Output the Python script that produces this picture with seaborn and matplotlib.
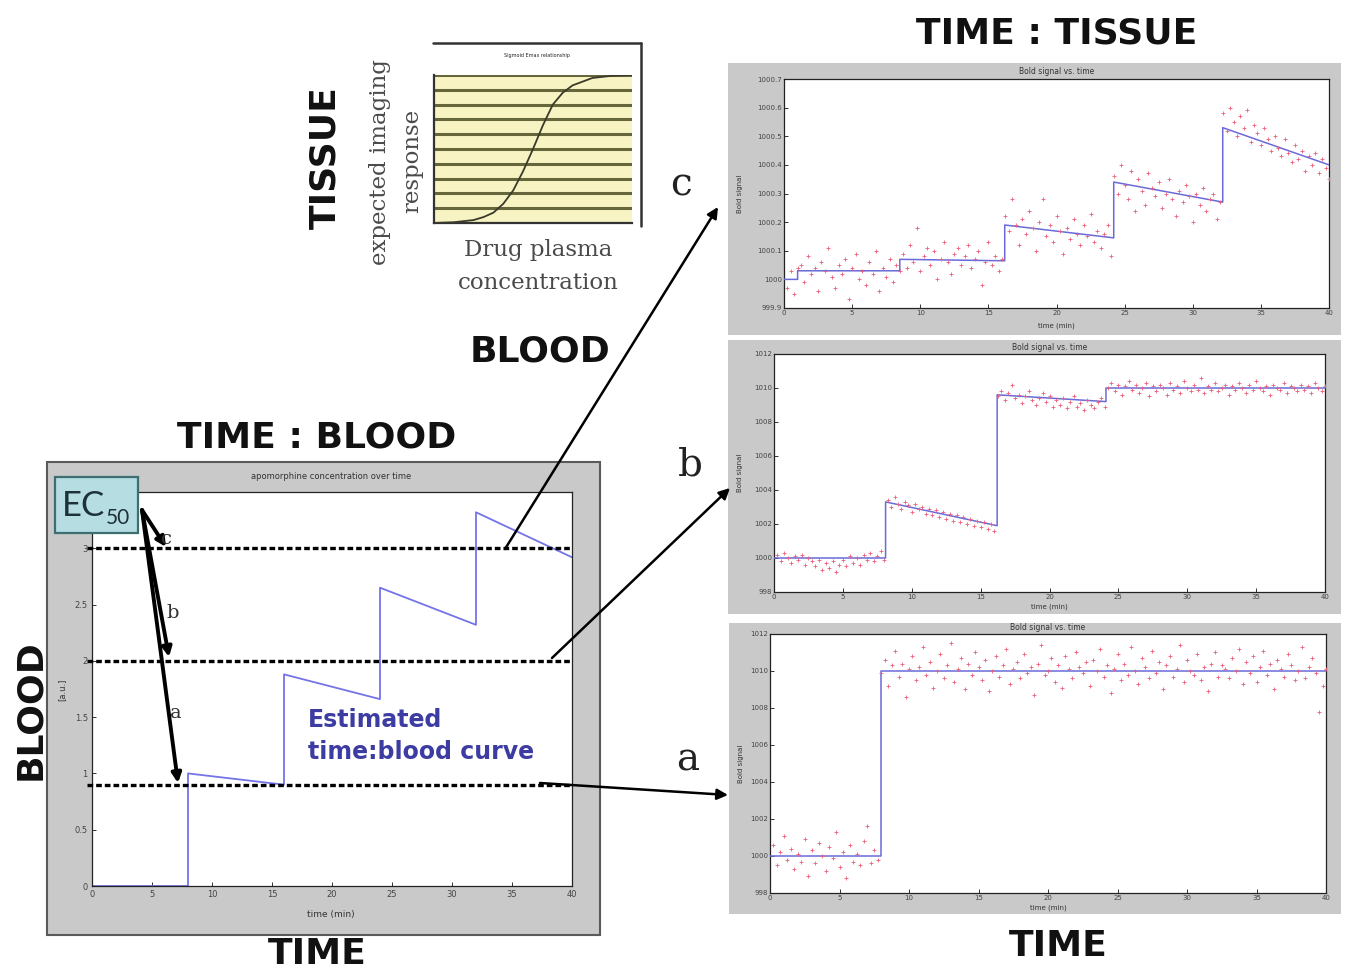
import numpy as np
import matplotlib
matplotlib.use("Agg")
import matplotlib.pyplot as plt
from matplotlib.patches import Rectangle, FancyArrowPatch
from matplotlib.lines import Line2D
import seaborn as sns

# ---------------------------------------------------------------- data
# estimated apomorphine blood concentration (four infusion steps)
blood_time = [0, 8, 8, 16, 16, 24, 24, 32, 32, 40]
blood_conc = [0, 0, 1.00, 0.90, 1.88, 1.66, 2.65, 2.32, 3.32, 2.92]
blood_xticks = [0, 5, 10, 15, 20, 25, 30, 35, 40]
blood_yticks = [0, 0.5, 1, 1.5, 2, 2.5, 3]

# EC50 scenarios
ec50_labels = ["a", "b", "c"]
ec50_values = [0.9, 2.0, 3.0]

# expected imaging response vs drug plasma concentration
dose_rel = [0, 0.10, 0.20, 0.25, 0.30, 0.35, 0.40, 0.45, 0.50, 0.55, 0.60,
            0.65, 0.70, 0.80, 0.90, 1.00]
response_rel = [0, 0.005, 0.02, 0.04, 0.07, 0.13, 0.22, 0.35, 0.50, 0.66, 0.80,
                0.88, 0.93, 0.98, 0.995, 1.00]

# BOLD signal sampling (min)
scan_interval = 0.25

# scenario c: EC50 = 3
fit_c_time = [0, 1, 1, 8.5, 8.5, 16.2, 16.2, 24.2, 24.2, 32.2, 32.2, 40]
fit_c_bold = [1000.0, 1000.0, 1000.03, 1000.03, 1000.07, 1000.065, 1000.19, 1000.145,
              1000.34, 1000.27, 1000.53, 1000.40]
bold_c = [
    999.97, 1000.03, 999.95, 1000.04,
    1000.05, 999.99, 1000.08, 1000.02, 1000.04, 999.96, 1000.06, 1000.03, 1000.11, 1000.01,
    999.97, 1000.05, 1000.02, 1000.07, 999.93, 1000.04, 1000.09, 1000.00, 1000.03, 999.98,
    1000.06, 1000.02, 1000.10, 999.96, 1000.04, 1000.01, 1000.07, 999.99, 1000.05, 1000.03,
    1000.09, 1000.04, 1000.12, 1000.06, 1000.18, 1000.03, 1000.08, 1000.11, 1000.05, 1000.10,
    1000.00, 1000.07, 1000.13, 1000.06, 1000.02, 1000.09, 1000.11, 1000.05, 1000.08, 1000.12,
    1000.04, 1000.07, 1000.10, 999.98, 1000.06, 1000.13, 1000.05, 1000.08, 1000.03, 1000.07,
    1000.22, 1000.17, 1000.28, 1000.19, 1000.12, 1000.21, 1000.16, 1000.24, 1000.18, 1000.10,
    1000.20, 1000.28, 1000.15, 1000.19, 1000.13, 1000.22, 1000.17, 1000.09, 1000.18, 1000.14,
    1000.21, 1000.16, 1000.12, 1000.19, 1000.15, 1000.23, 1000.13, 1000.17, 1000.11, 1000.16,
    1000.19, 1000.08,
    1000.36, 1000.30, 1000.40, 1000.33, 1000.28, 1000.38, 1000.24, 1000.35, 1000.31, 1000.26,
    1000.37, 1000.32, 1000.29, 1000.34, 1000.25, 1000.30, 1000.35, 1000.28, 1000.22, 1000.31,
    1000.27, 1000.33, 1000.29, 1000.20, 1000.30, 1000.26, 1000.32, 1000.24, 1000.28, 1000.30,
    1000.21, 1000.27,
    1000.58, 1000.52, 1000.60, 1000.55, 1000.50, 1000.57, 1000.53, 1000.59, 1000.48, 1000.54,
    1000.51, 1000.47, 1000.53, 1000.49, 1000.45, 1000.50, 1000.46, 1000.43, 1000.49, 1000.44,
    1000.41, 1000.47, 1000.42, 1000.45, 1000.38, 1000.43, 1000.40, 1000.44, 1000.37, 1000.42,
    1000.39, 1000.35,
]
bold_c_yticks = [999.9, 1000.0, 1000.1, 1000.2, 1000.3, 1000.4, 1000.5, 1000.6, 1000.7]

# scenario b: EC50 = 2
fit_b_time = [0, 8.1, 8.1, 16.2, 16.2, 24.1, 24.1, 40]
fit_b_bold = [1000.0, 1000.0, 1003.3, 1001.9, 1009.6, 1009.2, 1010.0, 1010.0]
bold_b = [
    1000.2, 999.8, 1000.3, 1000.0, 999.7, 1000.1, 999.9, 1000.2, 999.6, 1000.0,
    999.8, 999.5, 999.9, 999.3, 999.7, 999.4, 999.8, 999.2, 999.6, 999.9,
    999.5, 1000.1, 999.7, 1000.0, 999.6, 1000.2, 999.9, 1000.3, 999.8, 1000.1,
    1000.4, 999.9,
    1003.4, 1003.0, 1003.6, 1003.2, 1002.9, 1003.3, 1003.1, 1002.7, 1003.2, 1002.9,
    1003.0, 1002.6, 1002.9, 1002.5, 1002.8, 1002.4, 1002.7, 1002.3, 1002.6, 1002.2,
    1002.5, 1002.1, 1002.4, 1002.0, 1002.3, 1001.9, 1002.2, 1001.8, 1002.1, 1001.7,
    1002.0, 1001.6,
    1009.5, 1009.8, 1009.3, 1009.7, 1010.2, 1009.4, 1009.6, 1009.1, 1009.5, 1009.8,
    1009.3, 1009.0, 1009.4, 1009.7, 1009.2, 1009.5, 1008.9, 1009.3, 1009.0, 1009.4,
    1008.8, 1009.2, 1009.5, 1008.9, 1009.1, 1008.7, 1009.3, 1009.0, 1008.8, 1009.2,
    1009.4, 1008.9,
    1010.0, 1010.3, 1009.8, 1010.2, 1009.6, 1010.1, 1010.4, 1009.9, 1010.2, 1009.7,
    1010.0, 1010.3, 1009.5, 1010.1, 1009.8, 1010.2, 1010.0, 1009.6, 1010.3, 1009.9,
    1010.1, 1009.7, 1010.4, 1010.0, 1009.8, 1010.2, 1009.9, 1010.6, 1009.7, 1010.1,
    1009.9, 1010.3, 1009.8, 1010.0, 1010.2, 1009.6, 1010.1, 1009.9, 1010.3, 1010.0,
    1009.7, 1010.2, 1009.9, 1010.4, 1010.0, 1009.8, 1010.1, 1009.6, 1010.2, 1010.0,
    1009.9, 1010.3, 1009.7, 1010.1, 1010.0, 1009.8, 1010.2, 1009.9, 1010.1, 1009.7,
    1010.3, 1010.0, 1009.8, 1010.1,
]
bold_b_yticks = [998, 1000, 1002, 1004, 1006, 1008, 1010, 1012]

# scenario a: EC50 = 0.9
fit_a_time = [0, 8, 8, 40]
fit_a_bold = [1000.0, 1000.0, 1010.0, 1010.0]
bold_a = [
    1000.6, 999.5, 1000.2, 1001.1, 999.8, 1000.4, 999.3, 1000.1, 999.7, 1000.9,
    998.9, 1000.3, 999.6, 1000.7, 1000.0, 999.2, 1000.5, 999.9, 1001.3, 999.4,
    1000.2, 998.8, 1000.6, 999.7, 1000.1, 999.5, 1000.8, 1001.6, 999.6, 1000.3,
    999.8,
    1009.9, 1010.6, 1009.2, 1010.3, 1011.1, 1009.7, 1010.4, 1008.6, 1010.1, 1010.8,
    1009.5, 1010.2, 1011.3, 1009.8, 1010.5, 1009.1, 1010.0, 1010.9, 1009.6, 1010.3,
    1011.5, 1009.4, 1010.1, 1010.7, 1009.0, 1010.4, 1009.8, 1011.0, 1010.2, 1009.5,
    1010.6, 1008.9, 1010.0, 1010.8, 1009.7, 1010.3, 1011.2, 1009.3, 1010.1, 1010.5,
    1009.6, 1010.9, 1009.9, 1010.2, 1008.7, 1010.4, 1011.4, 1009.8, 1010.0, 1010.7,
    1009.4, 1010.3, 1009.1, 1010.8, 1010.1, 1009.6, 1011.0, 1010.2, 1009.9, 1010.5,
    1009.2, 1010.6, 1010.0, 1011.2, 1009.7, 1010.3, 1008.8, 1010.1, 1010.9, 1009.5,
    1010.4, 1009.8, 1011.3, 1010.0, 1009.3, 1010.7, 1010.2, 1009.6, 1011.1, 1009.9,
    1010.5, 1009.0, 1010.3, 1010.8, 1009.7, 1010.1, 1011.4, 1009.4, 1010.6, 1010.0,
    1009.8, 1010.9, 1009.5, 1010.2, 1008.9, 1010.4, 1011.0, 1009.7, 1010.3, 1010.1,
    1009.6, 1010.7, 1010.0, 1011.2, 1009.3, 1010.5, 1009.9, 1010.8, 1009.4, 1010.2,
    1011.1, 1009.8, 1010.4, 1009.0, 1010.6, 1010.1, 1009.7, 1010.9, 1010.3, 1009.5,
    1010.0, 1011.3, 1009.6, 1010.2, 1010.7, 1009.9, 1007.8, 1009.2, 1010.1,
]
bold_a_yticks = [998, 1000, 1002, 1004, 1006, 1008, 1010, 1012]
bold_xticks = [0, 5, 10, 15, 20, 25, 30, 35, 40]

# ---------------------------------------------------------------- layout helpers
W, H = 1346, 973
sns.set_theme(style="ticks")
plt.rcParams["font.family"] = ["DejaVu Sans"]

fig = plt.figure(figsize=(W / 100, H / 100), dpi=100)
fig.patch.set_facecolor("white")


def fbox(x0, y0, x1, y1):
    return [x0 / W, 1 - y1 / H, (x1 - x0) / W, (y1 - y0) / H]


def fpt(x, y):
    return (x / W, 1 - y / H)


def panel_bg(x0, y0, x1, y1, edge="none", lw=0):
    fig.add_artist(Rectangle(fpt(x0, y1), (x1 - x0) / W, (y1 - y0) / H,
                             transform=fig.transFigure, facecolor="#c9c9c9",
                             edgecolor=edge, linewidth=lw, zorder=0))


def style_axes(ax):
    ax.set_facecolor("white")
    for s in ax.spines.values():
        s.set_color("#222222")
        s.set_linewidth(0.9)
    ax.tick_params(direction="in", length=3, width=0.7, labelsize=6,
                   labelcolor="#444444", colors="#333333", pad=3)
    ax.set_xlabel("")
    ax.set_ylabel("")


def arrow(p0, p1, lw=2.0, scale=16):
    fig.add_artist(FancyArrowPatch(fpt(*p0), fpt(*p1), transform=fig.transFigure,
                                   arrowstyle="-|>", mutation_scale=scale,
                                   color="black", lw=lw, shrinkA=0, shrinkB=0,
                                   zorder=6))


big = dict(fontsize=26, fontweight="bold", color="#111111", ha="center", va="center")

# ---------------------------------------------------------------- blood panel
panel_bg(47, 462, 600, 935, edge="#5a5a5a", lw=1.5)
ax_b = fig.add_axes(fbox(92, 492, 572, 886))
sns.lineplot(x=blood_time, y=blood_conc, sort=False, estimator=None, ax=ax_b,
             color="#7474e8", lw=1.3)
for val in ec50_values:
    ax_b.axhline(val, color="black", lw=2.4, ls=(0, (1.7, 0.9)), zorder=4,
                 xmin=-0.01, xmax=1.0, clip_on=False)
ax_b.set_xlim(0, 40)
ax_b.set_ylim(0, 3.5)
ax_b.set_xticks(blood_xticks)
ax_b.set_yticks(blood_yticks)
ax_b.set_yticklabels(["0", "0.5", "1", "1.5", "2", "2.5", "3"])
style_axes(ax_b)
fig.text(*fpt(331, 476), "apomorphine concentration over time", fontsize=6,
         color="#333333", ha="center", va="center")
fig.text(*fpt(331, 915), "time (min)", fontsize=6.5, color="#333333",
         ha="center", va="center")
fig.text(*fpt(62, 690), "[a.u.]", fontsize=6, color="#333333", rotation=90,
         ha="center", va="center")

fig.text(*fpt(308, 720), "Estimated", fontsize=17, fontweight="bold",
         color="#3c3ca2", ha="left", va="center")
fig.text(*fpt(308, 752), "time:blood curve", fontsize=17, fontweight="bold",
         color="#3c3ca2", ha="left", va="center")

# EC50 box
fig.add_artist(Rectangle(fpt(55, 533), 83 / W, 56 / H, transform=fig.transFigure,
                         facecolor="#b5dde2", edgecolor="#3e6e72", lw=1.6, zorder=5))
fig.text(*fpt(62, 506), "EC", fontsize=25, family="Lato", color="#1d3238",
         ha="left", va="center", zorder=7)
fig.text(*fpt(106, 518), "50", fontsize=15, family="Lato", color="#1d3238",
         ha="left", va="center", zorder=7)

# arrows from EC50 to each level
ec_arrow_ends = [(178, 783), (169, 657), (166, 547)]
for end in ec_arrow_ends:
    arrow((142, 510), end, lw=2.8, scale=14)
small_pos = [(176, 713), (173, 613), (167, 539)]
for lab, pos in zip(ec50_labels, small_pos):
    fig.text(*fpt(*pos), lab, fontsize=14, family="DejaVu Serif",
             color="#333333", ha="center", va="center", zorder=7)

# ---------------------------------------------------------------- tissue inset
ax_s = fig.add_axes(fbox(434, 75, 632, 223))
ax_s.set_facecolor("#f7f3c3")
sns.lineplot(x=dose_rel, y=response_rel, sort=False, estimator=None, ax=ax_s,
             color="#3a3a2a", lw=1.3, zorder=5)
ax_s.set_xlim(0, 1)
ax_s.set_ylim(0, 1)
ax_s.set_yticks(np.linspace(0, 1, 11))
ax_s.set_xticks([])
ax_s.grid(axis="y", color="#66663c", lw=2.2)
ax_s.tick_params(left=False, labelleft=False, bottom=False, labelbottom=False)
ax_s.set_xlabel("")
ax_s.set_ylabel("")
for side in ["top", "right"]:
    ax_s.spines[side].set_visible(False)
for side in ["left", "bottom"]:
    ax_s.spines[side].set_color("#333333")
    ax_s.spines[side].set_linewidth(1.6)
fig.add_artist(Line2D([433 / W, 641 / W], [1 - 43 / H, 1 - 43 / H],
                      transform=fig.transFigure, color="#333333", lw=1.8))
fig.add_artist(Line2D([641 / W, 641 / W], [1 - 43 / H, 1 - 226 / H],
                      transform=fig.transFigure, color="#333333", lw=1.8))
fig.text(*fpt(537, 56), "Sigmoid Emax relationship", fontsize=3.5,
         color="#222222", ha="center", va="center")

serif = dict(family="DejaVu Serif", fontsize=16.5, color="#4a4a4a",
             ha="center", va="center")
fig.text(*fpt(380, 162), "expected imaging", rotation=90, **serif)
fig.text(*fpt(412, 161), "response", rotation=90, **serif)
fig.text(*fpt(538, 250), "Drug plasma", **serif)
fig.text(*fpt(538, 283), "concentration", **serif)

# ---------------------------------------------------------------- BOLD panels
bold_panels = [
    dict(bg=(728, 63, 1341, 335), ax=(784, 79, 1329, 308), data=bold_c,
         fit=(fit_c_time, fit_c_bold), yt=bold_c_yticks, title_y=71, xl_y=326),
    dict(bg=(728, 340, 1341, 614), ax=(774, 354, 1325, 592), data=bold_b,
         fit=(fit_b_time, fit_b_bold), yt=bold_b_yticks, title_y=347, xl_y=607),
    dict(bg=(729, 623, 1341, 914), ax=(770, 634, 1326, 893), data=bold_a,
         fit=(fit_a_time, fit_a_bold), yt=bold_a_yticks, title_y=628, xl_y=908),
]
for p in bold_panels:
    panel_bg(*p["bg"])
    ax = fig.add_axes(fbox(*p["ax"]))
    times = scan_interval * np.arange(1, len(p["data"]) + 1)
    sns.lineplot(x=p["fit"][0], y=p["fit"][1], sort=False, estimator=None, ax=ax,
                 color="#6a6ad8", lw=1.1, zorder=3)
    sns.scatterplot(x=times, y=p["data"], ax=ax, marker="+", s=11,
                    color="#e8607c", linewidth=0.6, zorder=4)
    ax.set_xlim(0, 40)
    ax.set_ylim(p["yt"][0], p["yt"][-1])
    ax.set_xticks(bold_xticks)
    ax.set_yticks(p["yt"])
    ax.set_yticklabels([f"{v:g}" for v in p["yt"]])
    style_axes(ax)
    ax.tick_params(labelsize=5, pad=1.5)
    cx = (p["ax"][0] + p["ax"][2]) / 2
    fig.text(*fpt(cx, p["title_y"]), "Bold signal vs. time", fontsize=5.5,
             color="#333333", ha="center", va="center")
    fig.text(*fpt(cx, p["xl_y"]), "time (min)", fontsize=5, color="#333333",
             ha="center", va="center")
    fig.text(*fpt(p["bg"][0] + 12, (p["ax"][1] + p["ax"][3]) / 2), "Bold signal",
             fontsize=5, rotation=90, color="#333333", ha="center", va="center")

# arrows from blood curve to the matching tissue response
arrow((505, 549), (718, 207), lw=1.8, scale=16)
arrow((552, 658), (730, 488), lw=1.8, scale=16)
arrow((540, 783), (728, 795), lw=1.8, scale=16)

letter = dict(family="DejaVu Serif", fontsize=28, color="#222222",
              ha="center", va="center")
fig.text(*fpt(681, 185), "c", **letter)
fig.text(*fpt(690, 465), "b", **letter)
fig.text(*fpt(688, 760), "a", **letter)

# ---------------------------------------------------------------- headings
fig.text(*fpt(1057, 33), "TIME : TISSUE", **big)
fig.text(*fpt(317, 437), "TIME : BLOOD", **big)
fig.text(*fpt(317, 954), "TIME", **big)
fig.text(*fpt(1058, 946), "TIME", **big)
fig.text(*fpt(540, 352), "BLOOD", **big)
fig.text(*fpt(30, 710), "BLOOD", rotation=90, **big)
fig.text(*fpt(325, 158), "TISSUE", rotation=90, **big)

fig.savefig("out.png", dpi=100)
